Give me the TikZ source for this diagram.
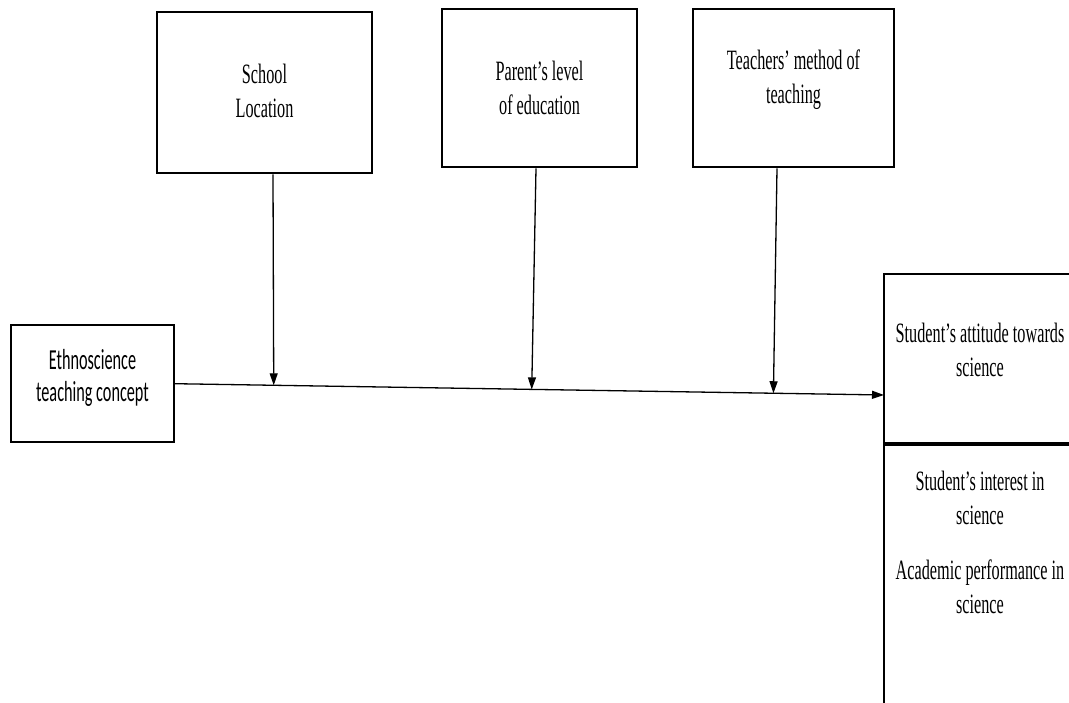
\documentclass[tikz,border=0pt]{standalone}
\usepackage{fontspec}
\setmainfont{Liberation Serif}[FakeStretch=0.58]
\newfontfamily\carlito{Carlito}[FakeStretch=0.56]
\usetikzlibrary{arrows.meta,calc}

\begin{document}
\begin{tikzpicture}[x=1pt,y=-1pt,
    box/.style={draw,line width=2.4pt,inner sep=0pt,anchor=north,align=center,font=\fontsize{28}{34}\selectfont},
    arr/.style={line width=1.3pt,-{Triangle[length=12pt,width=8pt]}}
  ]
  \path[use as bounding box,clip] (0,0) rectangle (1069,702);

  % moderating variables
  \node[box,minimum width=215pt,text height=105pt,text depth=56pt] (school) at (264.5,11) {School\\Location};
  \node[box,minimum width=195pt,text height=105pt,text depth=53pt] (parent) at (539.5,8) {Parent's level\\of education};
  \node[box,minimum width=201pt,text height=94pt,text depth=64pt] (teach) at (793.5,8) {Teachers' method of\\teaching};

  % independent and dependent variables
  \node[box,minimum width=163pt,text height=76pt,text depth=41pt,font=\carlito\fontsize{29}{32}\selectfont] (ethno) at (92.5,324) {Ethnoscience\\teaching concept};
  \node[box,minimum width=192pt,text height=102pt,text depth=67pt] (att) at (980,273) {Student's attitude towards\\science};
  \node[box,minimum width=192pt,text height=168pt,text depth=118pt] (perf) at (980,444) {Student's interest in\\science\\[21pt]Academic performance in\\science};

  \coordinate (hit) at (884,395);
  \draw[arr] (ethno.east) -- (hit);

  \draw[arr] ([xshift=8.5pt]school.south) -- ($(ethno.east)!0.139!(hit)$);
  \draw[arr] ([xshift=-3.5pt]parent.south) -- ($(ethno.east)!0.503!(hit)$);
  \draw[arr] ([xshift=-16.5pt]teach.south) -- ($(ethno.east)!0.844!(hit)$);
\end{tikzpicture}
\end{document}
